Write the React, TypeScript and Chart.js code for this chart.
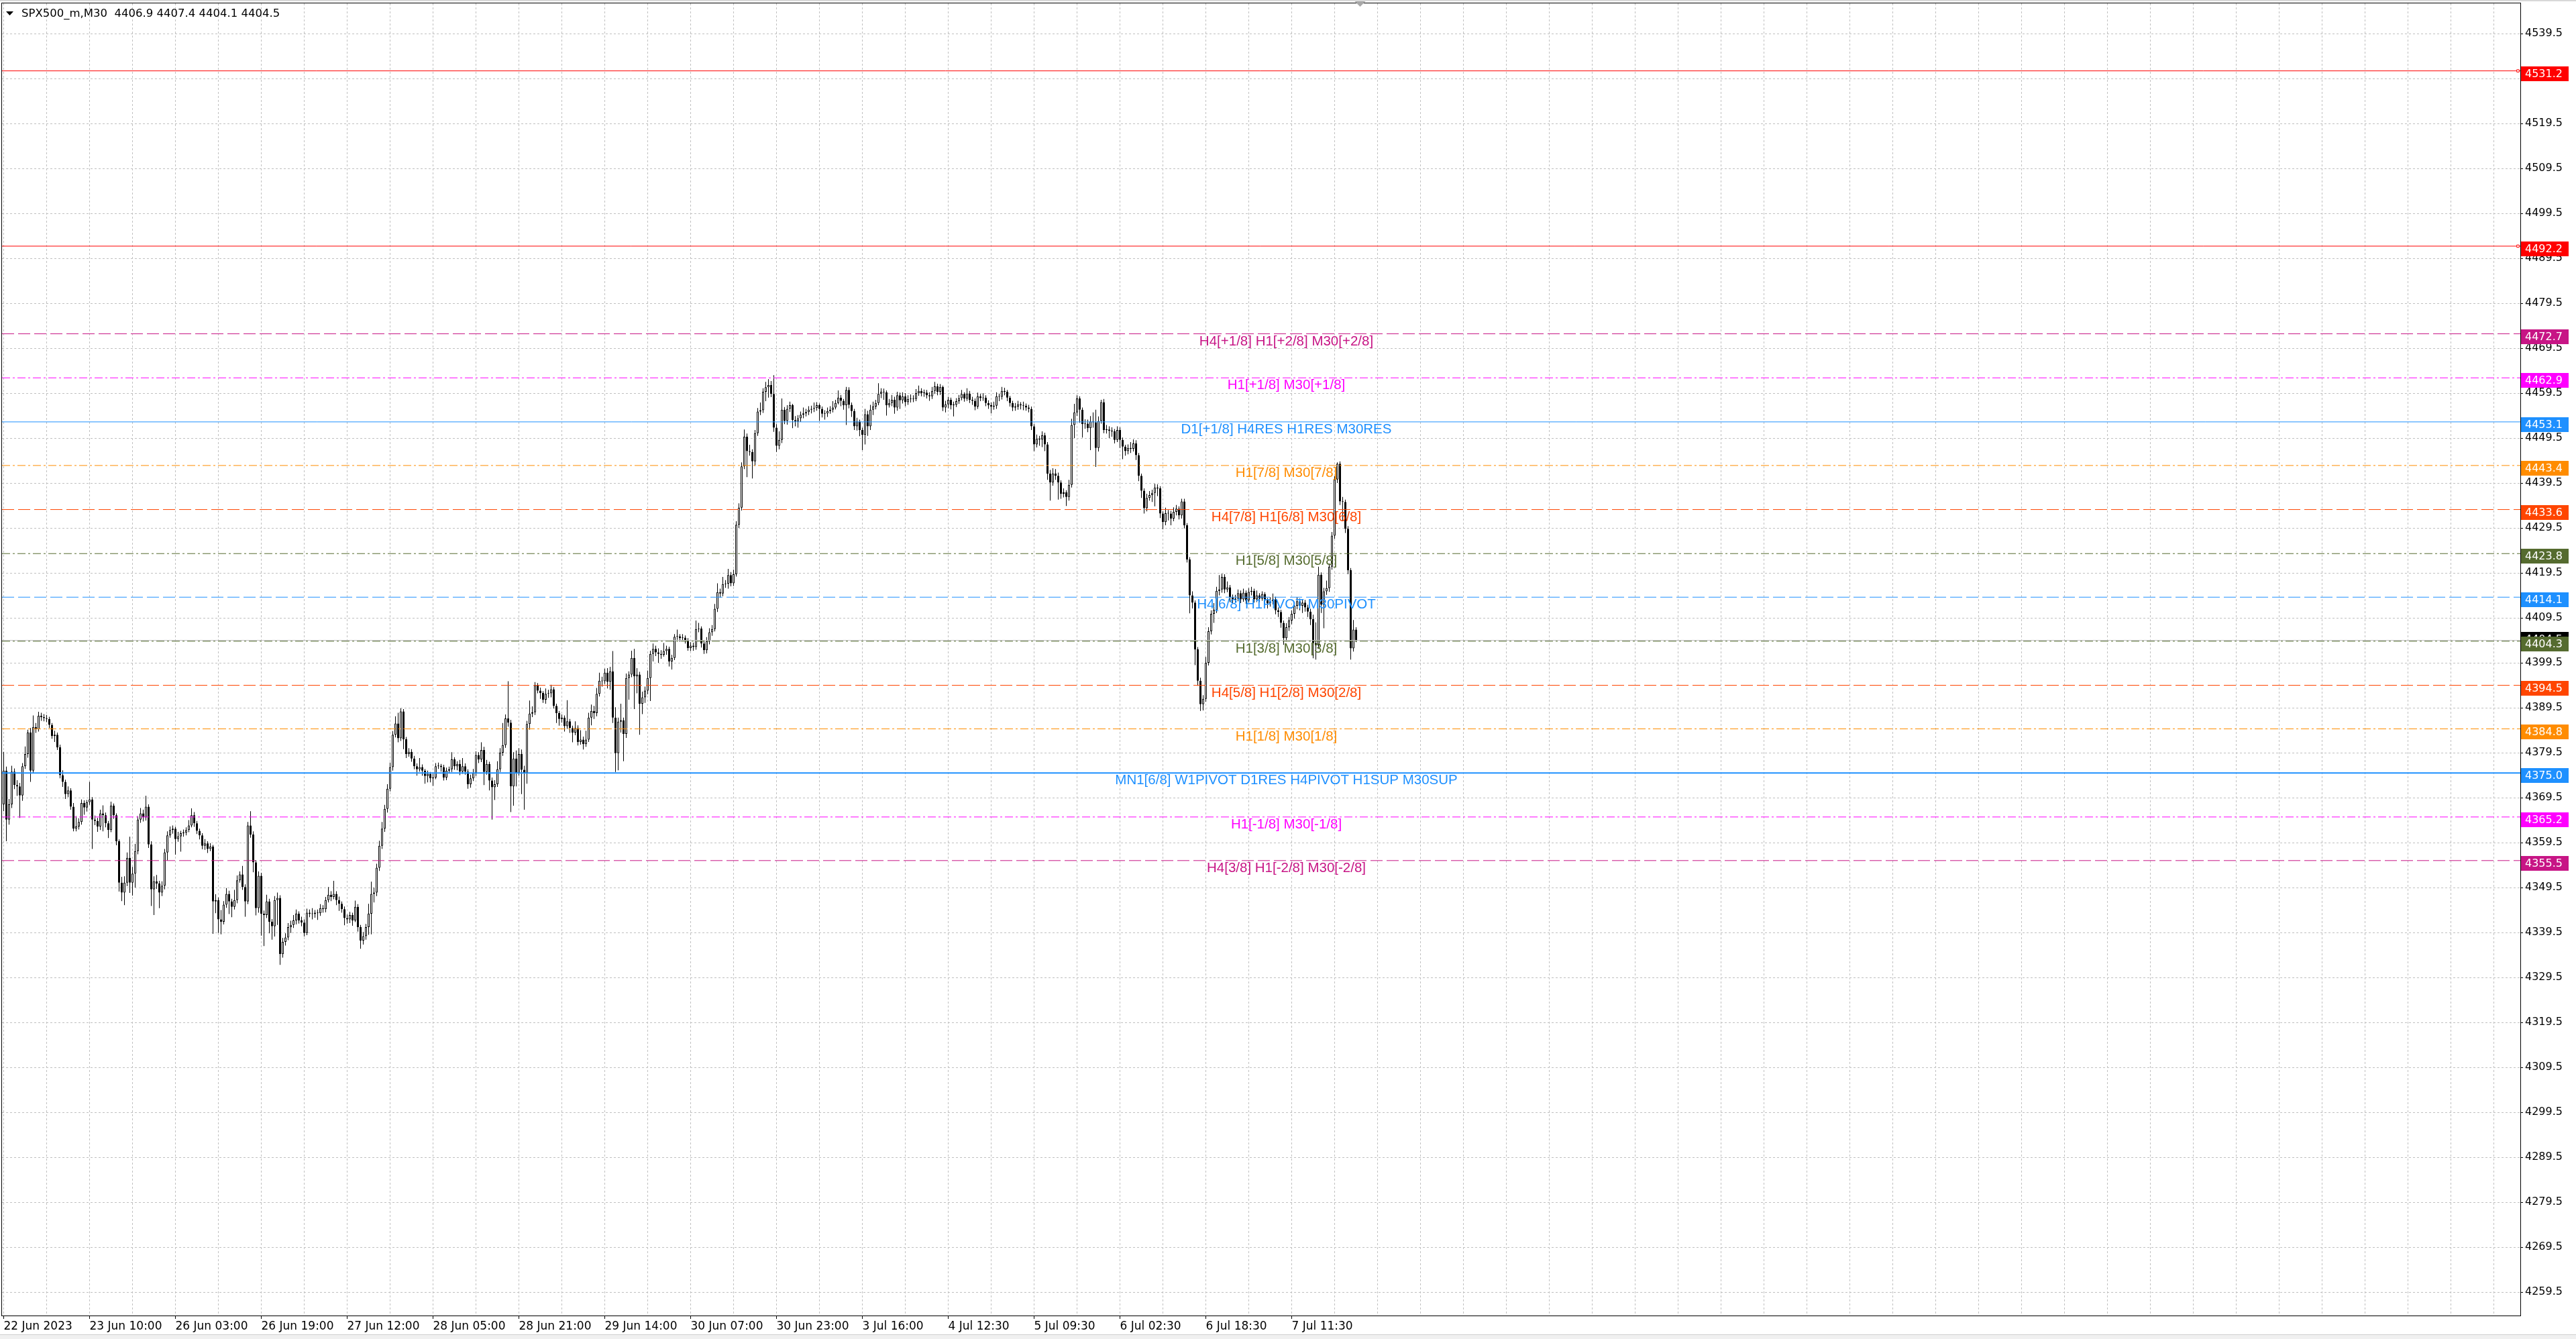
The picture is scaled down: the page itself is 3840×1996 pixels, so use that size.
import React, { useEffect, useRef } from "react";
import { Chart, registerables } from "chart.js";

Chart.register(...registerables);

// ---------- candle data (M30 bars) ----------
const OPEN = [
  4368.0, 4375.5, 4364.6, 4368.0, 4375.3, 4372.3, 4372.0, 4370.0, 4376.5, 4379.2,
  4384.0, 4375.5, 4385.2, 4384.7, 4387.7, 4387.4, 4387.2, 4387.0, 4385.7, 4383.2,
  4383.5, 4380.7, 4374.5, 4373.0, 4370.3, 4371.1, 4367.5, 4362.6, 4363.1, 4364.1,
  4368.3, 4367.3, 4368.5, 4369.1, 4364.6, 4364.3, 4363.1, 4366.0, 4365.6, 4363.8,
  4362.3, 4367.7, 4365.6, 4359.8, 4350.6, 4348.4, 4350.6, 4356.1, 4350.6, 4352.6,
  4357.6, 4364.6, 4366.0, 4365.1, 4367.5, 4359.1, 4349.1, 4350.9, 4350.4, 4348.4,
  4349.9, 4357.3, 4361.1, 4362.3, 4362.6, 4360.3, 4360.9, 4361.6, 4361.7, 4362.3,
  4363.3, 4365.6, 4363.8, 4362.1, 4361.1, 4358.8, 4359.3, 4358.1, 4358.6, 4346.4,
  4346.7, 4342.4, 4341.9, 4345.7, 4348.1, 4346.4, 4345.2, 4346.7, 4351.1, 4352.4,
  4349.6, 4346.4, 4363.3, 4361.3, 4355.1, 4344.9, 4352.1, 4343.7, 4343.4, 4346.4,
  4341.9, 4340.9, 4346.7, 4347.2, 4334.7, 4337.4, 4338.4, 4340.7, 4341.2, 4342.2,
  4343.7, 4342.2, 4341.7, 4339.4, 4343.9, 4343.7, 4343.6, 4343.9, 4343.8, 4344.9,
  4344.7, 4346.7, 4347.9, 4347.4, 4348.1, 4346.7, 4345.9, 4344.7, 4342.7, 4342.4,
  4343.4, 4342.2, 4345.2, 4340.7, 4337.7, 4338.7, 4340.7, 4343.7, 4348.1, 4348.4,
  4353.9, 4358.8, 4362.6, 4367.0, 4371.5, 4376.3, 4383.5, 4386.0, 4382.7, 4388.7,
  4382.5, 4379.2, 4379.7, 4378.2, 4376.5, 4375.8, 4376.3, 4375.5, 4374.3, 4374.8,
  4373.8, 4374.0, 4376.5, 4376.6, 4376.3, 4374.0, 4375.5, 4375.8, 4378.0, 4376.5,
  4377.0, 4375.3, 4376.5, 4375.3, 4372.5, 4373.8, 4375.0, 4379.0, 4378.0, 4380.1,
  4375.2, 4377.0, 4373.3, 4371.8, 4372.5, 4375.8, 4379.5, 4381.2, 4387.1, 4386.2,
  4372.0, 4378.2, 4375.0, 4379.2, 4375.7, 4375.0, 4385.9, 4388.2, 4388.5, 4394.5,
  4393.3, 4392.8, 4391.3, 4392.6, 4392.7, 4393.6, 4389.9, 4388.3, 4387.0, 4387.3,
  4385.4, 4386.5, 4385.0, 4384.0, 4385.0, 4381.9, 4382.4, 4381.4, 4382.4, 4387.3,
  4388.8, 4388.3, 4392.6, 4395.5, 4395.4, 4397.3, 4395.3, 4397.6, 4387.3, 4379.4,
  4386.4, 4386.7, 4383.7, 4396.1, 4396.9, 4400.6, 4396.5, 4396.9, 4390.4, 4391.8,
  4393.3, 4396.1, 4401.5, 4402.6, 4401.8, 4401.5, 4401.3, 4402.1, 4402.6, 4399.8,
  4400.6, 4405.3, 4405.4, 4405.0, 4405.1, 4404.5, 4402.8, 4403.3, 4403.0, 4407.0,
  4407.1, 4403.8, 4402.3, 4404.3, 4406.3, 4407.0, 4411.5, 4415.2, 4414.9, 4417.0,
  4417.1, 4419.0, 4417.2, 4419.2, 4430.2, 4434.0, 4443.2, 4449.8, 4446.6, 4446.4,
  4444.3, 4450.6, 4455.4, 4455.7, 4459.8, 4460.8, 4461.3, 4459.3, 4451.8, 4447.8,
  4449.1, 4455.8, 4453.3, 4456.0, 4456.8, 4453.5, 4453.2, 4453.9, 4454.7, 4455.0,
  4455.3, 4455.8, 4456.0, 4456.2, 4456.8, 4456.0, 4454.9, 4455.0, 4455.5, 4455.8,
  4456.3, 4457.3, 4458.5, 4457.8, 4456.8, 4460.2, 4456.9, 4455.5, 4452.1, 4453.2,
  4451.3, 4450.2, 4454.8, 4452.1, 4455.8, 4456.5, 4457.3, 4459.3, 4459.8, 4459.7,
  4456.8, 4457.3, 4458.0, 4456.3, 4459.0, 4457.9, 4458.8, 4457.5, 4458.2, 4458.3,
  4458.2, 4459.5, 4460.0, 4459.5, 4459.6, 4459.0, 4458.8, 4460.0, 4461.0, 4459.8,
  4460.9, 4456.3, 4457.0, 4458.0, 4456.8, 4456.9, 4457.7, 4458.4, 4459.3, 4458.3,
  4459.4, 4458.0, 4457.8, 4456.5, 4458.8, 4458.4, 4458.5, 4457.3, 4456.8, 4456.5,
  4456.7, 4458.8, 4458.7, 4460.0, 4459.8, 4458.5, 4457.3, 4456.3, 4456.5, 4457.0,
  4456.8, 4456.7, 4456.3, 4456.0, 4452.1, 4448.1, 4449.3, 4449.2, 4450.1, 4448.1,
  4441.6, 4439.6, 4441.6, 4441.1, 4439.6, 4437.1, 4437.4, 4436.4, 4439.1, 4452.4,
  4455.2, 4458.3, 4455.8, 4452.6, 4452.7, 4451.7, 4453.2, 4453.0, 4447.3, 4453.3,
  4457.5, 4451.3, 4451.4, 4451.1, 4451.0, 4449.1, 4451.3, 4449.1, 4447.6, 4446.6,
  4447.3, 4447.1, 4448.3, 4445.7, 4441.1, 4437.8, 4433.9, 4436.2, 4436.8, 4437.3,
  4438.5, 4438.3, 4432.7, 4430.8, 4432.8, 4432.7, 4431.6, 4433.1, 4433.8, 4432.3,
  4435.4, 4430.1, 4422.5, 4414.5, 4412.9, 4402.5, 4395.5, 4390.3, 4391.5, 4399.5,
  4406.5, 4410.4, 4411.3, 4415.5, 4415.8, 4418.6, 4415.8, 4416.3, 4414.1, 4413.5,
  4413.8, 4415.0, 4413.6, 4415.1, 4413.4, 4415.3, 4415.5, 4413.6, 4414.5, 4413.8,
  4414.8, 4413.4, 4412.7, 4413.2, 4413.6, 4411.2, 4410.8, 4408.4, 4405.0, 4407.4,
  4408.9, 4410.4, 4412.2, 4413.2, 4412.2, 4412.9, 4411.8, 4410.9, 4409.2, 4403.9,
  4403.4, 4419.1, 4412.4, 4415.4, 4416.1, 4420.9, 4427.8, 4440.3, 4443.8, 4435.4,
  4435.3, 4429.3, 4420.1, 4402.7, 4406.9,
];

const HIGH = [
  4379.7, 4376.4, 4369.2, 4376.6, 4376.0, 4373.4, 4372.8, 4377.2, 4380.9, 4384.6,
  4385.0, 4387.8, 4386.1, 4388.6, 4388.4, 4388.1, 4387.9, 4387.5, 4386.1, 4384.4,
  4384.0, 4381.3, 4375.6, 4373.5, 4372.0, 4371.6, 4368.3, 4365.4, 4364.9, 4369.1,
  4368.9, 4369.0, 4373.0, 4369.6, 4365.5, 4365.0, 4366.8, 4367.8, 4366.2, 4364.3,
  4368.6, 4368.2, 4366.0, 4360.2, 4351.9, 4352.0, 4357.3, 4360.8, 4354.1, 4359.2,
  4365.4, 4367.2, 4366.8, 4369.9, 4368.0, 4359.8, 4352.0, 4352.3, 4351.0, 4350.9,
  4358.1, 4362.0, 4363.1, 4363.3, 4363.0, 4361.9, 4362.1, 4362.4, 4362.9, 4364.5,
  4367.1, 4366.3, 4364.3, 4362.6, 4361.6, 4360.3, 4359.8, 4359.4, 4359.0, 4348.0,
  4347.3, 4344.5, 4346.5, 4349.4, 4348.8, 4347.0, 4349.0, 4352.2, 4353.1, 4354.3,
  4350.2, 4364.1, 4366.5, 4362.0, 4355.6, 4353.1, 4352.8, 4344.4, 4347.9, 4347.0,
  4342.5, 4347.6, 4348.4, 4347.8, 4338.3, 4339.3, 4341.6, 4342.1, 4343.4, 4344.6,
  4344.2, 4343.0, 4342.4, 4344.8, 4344.6, 4344.9, 4344.5, 4344.6, 4345.8, 4345.6,
  4347.4, 4349.6, 4348.7, 4351.0, 4348.7, 4347.5, 4346.4, 4345.3, 4343.5, 4344.1,
  4343.9, 4346.6, 4345.8, 4341.2, 4339.6, 4341.4, 4345.9, 4350.8, 4349.5, 4354.8,
  4359.9, 4364.1, 4367.9, 4372.5, 4377.3, 4384.3, 4387.6, 4388.4, 4389.4, 4389.2,
  4383.0, 4380.5, 4380.3, 4378.8, 4377.1, 4378.3, 4376.9, 4375.9, 4375.5, 4375.2,
  4374.8, 4377.2, 4377.3, 4377.0, 4376.8, 4376.2, 4376.4, 4379.6, 4378.5, 4377.6,
  4377.9, 4378.3, 4377.1, 4375.8, 4374.6, 4375.9, 4379.8, 4379.6, 4381.8, 4380.8,
  4377.9, 4377.5, 4374.0, 4373.4, 4377.6, 4380.5, 4386.1, 4388.0, 4395.4, 4386.8,
  4379.6, 4380.0, 4380.5, 4380.2, 4376.6, 4386.6, 4391.1, 4389.8, 4395.2, 4395.0,
  4394.0, 4393.2, 4393.8, 4393.5, 4394.6, 4394.1, 4390.4, 4388.8, 4388.0, 4387.8,
  4391.2, 4387.0, 4385.5, 4386.5, 4385.6, 4384.5, 4383.1, 4384.4, 4388.4, 4390.2,
  4389.9, 4393.9, 4397.3, 4396.4, 4398.2, 4398.3, 4398.6, 4402.1, 4389.6, 4387.3,
  4390.4, 4387.3, 4397.1, 4397.6, 4402.2, 4402.6, 4398.3, 4397.5, 4393.1, 4394.2,
  4397.8, 4402.2, 4403.8, 4403.3, 4402.7, 4402.3, 4403.9, 4403.3, 4403.1, 4401.3,
  4405.9, 4406.9, 4405.9, 4405.9, 4405.6, 4405.0, 4404.1, 4404.0, 4408.9, 4408.4,
  4407.6, 4404.5, 4405.2, 4407.2, 4407.9, 4412.6, 4417.2, 4416.0, 4418.6, 4417.9,
  4420.4, 4419.7, 4420.2, 4431.0, 4435.0, 4444.1, 4451.4, 4450.5, 4448.0, 4447.0,
  4451.3, 4456.2, 4457.4, 4460.6, 4462.0, 4462.6, 4462.2, 4463.5, 4452.6, 4451.0,
  4458.3, 4456.4, 4456.8, 4457.6, 4457.1, 4454.4, 4454.6, 4455.4, 4456.3, 4456.0,
  4456.6, 4456.7, 4457.4, 4457.5, 4457.2, 4456.5, 4455.7, 4456.3, 4456.6, 4457.7,
  4458.0, 4460.1, 4459.1, 4458.2, 4460.9, 4460.8, 4457.4, 4456.0, 4454.0, 4453.6,
  4451.8, 4456.0, 4455.6, 4456.9, 4457.6, 4458.0, 4461.7, 4460.6, 4460.5, 4460.1,
  4458.2, 4459.1, 4458.7, 4459.8, 4459.6, 4459.7, 4459.5, 4459.0, 4459.2, 4459.0,
  4460.4, 4461.2, 4460.6, 4460.3, 4460.2, 4459.7, 4460.9, 4462.0, 4461.6, 4461.5,
  4461.2, 4457.8, 4458.7, 4458.5, 4457.6, 4458.4, 4459.1, 4460.2, 4459.7, 4460.6,
  4460.0, 4458.7, 4458.3, 4459.6, 4459.3, 4459.5, 4459.0, 4457.9, 4457.4, 4457.6,
  4459.7, 4459.4, 4460.9, 4460.7, 4460.2, 4458.9, 4457.8, 4457.3, 4457.8, 4457.5,
  4457.6, 4457.2, 4456.9, 4456.5, 4452.6, 4450.3, 4450.0, 4451.0, 4450.7, 4448.6,
  4442.4, 4442.8, 4442.6, 4441.8, 4440.1, 4438.3, 4437.9, 4440.2, 4453.8, 4457.1,
  4459.0, 4458.8, 4456.3, 4453.7, 4453.6, 4454.4, 4455.2, 4455.8, 4454.3, 4458.0,
  4458.2, 4452.4, 4452.1, 4451.9, 4451.5, 4452.1, 4451.9, 4449.6, 4448.0, 4448.1,
  4448.6, 4449.2, 4449.0, 4446.2, 4441.6, 4438.3, 4437.1, 4437.7, 4438.0, 4439.3,
  4439.2, 4438.8, 4433.2, 4434.0, 4433.5, 4433.3, 4434.1, 4434.6, 4434.3, 4436.0,
  4436.0, 4430.6, 4423.0, 4415.4, 4413.4, 4403.0, 4396.2, 4392.3, 4400.8, 4407.4,
  4411.2, 4412.8, 4416.4, 4419.0, 4419.3, 4419.2, 4417.6, 4416.8, 4414.7, 4414.6,
  4415.8, 4415.6, 4416.0, 4415.6, 4416.1, 4416.4, 4416.0, 4415.6, 4415.0, 4415.4,
  4415.2, 4413.9, 4414.1, 4414.9, 4414.2, 4411.8, 4411.3, 4408.9, 4408.3, 4409.7,
  4411.2, 4413.0, 4414.1, 4413.8, 4413.6, 4413.5, 4412.4, 4411.5, 4410.2, 4408.5,
  4420.9, 4419.6, 4416.2, 4417.8, 4421.6, 4428.6, 4441.0, 4444.1, 4444.3, 4436.4,
  4435.8, 4429.9, 4420.6, 4409.0, 4407.4,
];

const LOW = [
  4366.5, 4359.8, 4363.5, 4367.2, 4371.4, 4369.9, 4365.0, 4368.8, 4375.9, 4378.4,
  4373.0, 4375.0, 4383.9, 4384.2, 4386.6, 4386.5, 4386.3, 4385.0, 4382.6, 4381.9,
  4380.1, 4373.8, 4371.9, 4369.2, 4369.6, 4366.8, 4362.0, 4362.0, 4362.4, 4363.5,
  4365.7, 4366.4, 4367.9, 4358.1, 4363.4, 4361.9, 4362.3, 4362.0, 4362.9, 4360.5,
  4361.8, 4364.8, 4358.9, 4348.6, 4346.5, 4345.6, 4349.8, 4348.3, 4347.7, 4349.5,
  4356.9, 4363.9, 4364.2, 4364.4, 4358.3, 4345.4, 4343.4, 4349.2, 4344.9, 4347.6,
  4349.1, 4355.5, 4360.6, 4361.5, 4356.8, 4359.7, 4357.5, 4360.8, 4361.1, 4361.8,
  4362.9, 4363.0, 4361.4, 4360.2, 4358.0, 4357.9, 4357.2, 4357.6, 4339.2, 4343.8,
  4339.4, 4339.1, 4341.3, 4345.0, 4343.6, 4342.9, 4344.6, 4346.0, 4350.6, 4349.0,
  4343.0, 4345.8, 4360.6, 4352.9, 4343.3, 4343.9, 4338.8, 4336.5, 4342.7, 4339.3,
  4337.9, 4338.6, 4341.2, 4332.3, 4333.9, 4336.6, 4337.8, 4339.4, 4340.5, 4341.3,
  4341.5, 4340.9, 4338.6, 4338.9, 4342.9, 4342.4, 4342.8, 4342.3, 4343.2, 4343.9,
  4344.0, 4346.2, 4346.5, 4346.9, 4345.6, 4344.3, 4343.9, 4341.1, 4341.5, 4341.6,
  4341.0, 4341.8, 4339.7, 4335.9, 4336.8, 4337.9, 4339.0, 4339.1, 4346.2, 4347.6,
  4353.2, 4358.1, 4361.9, 4366.2, 4370.9, 4375.5, 4382.9, 4381.8, 4382.1, 4380.3,
  4378.3, 4378.6, 4377.5, 4375.8, 4374.4, 4375.3, 4374.4, 4372.6, 4372.9, 4372.9,
  4372.1, 4373.6, 4375.9, 4375.3, 4373.3, 4373.4, 4374.9, 4375.2, 4375.7, 4375.6,
  4374.5, 4374.8, 4374.6, 4371.5, 4371.7, 4373.2, 4374.3, 4377.2, 4377.4, 4372.3,
  4374.6, 4371.1, 4364.6, 4369.0, 4371.9, 4375.2, 4378.8, 4380.6, 4385.3, 4366.3,
  4367.7, 4372.0, 4374.4, 4370.3, 4366.8, 4372.6, 4384.6, 4387.4, 4387.9, 4392.7,
  4391.5, 4390.6, 4390.4, 4391.7, 4391.8, 4389.3, 4386.1, 4385.5, 4386.2, 4384.2,
  4384.8, 4383.9, 4381.8, 4383.4, 4381.1, 4381.3, 4380.2, 4380.8, 4381.9, 4385.6,
  4387.0, 4387.6, 4392.0, 4394.2, 4394.8, 4393.8, 4393.5, 4386.1, 4375.2, 4375.6,
  4384.0, 4377.6, 4382.8, 4391.3, 4396.3, 4389.2, 4392.7, 4383.5, 4388.1, 4390.6,
  4392.5, 4391.0, 4399.8, 4401.0, 4399.5, 4400.4, 4400.9, 4401.3, 4398.7, 4398.0,
  4400.1, 4404.6, 4404.2, 4404.4, 4403.8, 4402.2, 4402.1, 4402.2, 4402.4, 4406.3,
  4402.9, 4401.5, 4401.6, 4403.6, 4405.5, 4406.5, 4410.8, 4414.0, 4414.3, 4416.2,
  4416.0, 4416.5, 4416.6, 4418.7, 4429.5, 4433.4, 4442.6, 4440.8, 4445.6, 4440.5,
  4443.3, 4450.0, 4454.6, 4455.1, 4457.7, 4458.5, 4458.6, 4450.9, 4446.4, 4447.0,
  4448.4, 4452.6, 4452.5, 4455.3, 4451.7, 4452.1, 4451.8, 4453.1, 4453.9, 4454.3,
  4454.6, 4455.0, 4455.3, 4455.6, 4453.3, 4454.1, 4453.6, 4454.2, 4454.9, 4455.2,
  4455.9, 4457.0, 4456.6, 4455.8, 4452.4, 4456.1, 4454.2, 4451.3, 4451.2, 4449.9,
  4446.8, 4448.1, 4450.0, 4451.3, 4454.6, 4455.9, 4456.8, 4458.4, 4458.0, 4454.5,
  4456.3, 4456.6, 4454.9, 4455.6, 4456.0, 4457.2, 4456.6, 4456.9, 4457.4, 4457.5,
  4457.7, 4458.9, 4458.8, 4458.7, 4458.3, 4457.8, 4458.2, 4459.3, 4459.0, 4459.1,
  4455.5, 4455.2, 4456.1, 4455.9, 4454.3, 4456.4, 4457.1, 4457.9, 4457.6, 4457.8,
  4457.3, 4456.9, 4455.7, 4456.0, 4457.7, 4457.8, 4456.6, 4456.0, 4455.0, 4455.8,
  4456.0, 4457.7, 4458.1, 4459.0, 4457.7, 4456.5, 4455.5, 4455.6, 4455.8, 4455.9,
  4455.7, 4455.6, 4455.2, 4451.3, 4446.6, 4447.4, 4447.8, 4447.5, 4446.6, 4440.2,
  4435.6, 4438.9, 4440.2, 4435.8, 4436.0, 4436.3, 4434.4, 4435.6, 4438.5, 4449.5,
  4454.4, 4452.9, 4449.6, 4451.6, 4450.8, 4446.8, 4451.8, 4443.1, 4446.5, 4452.7,
  4450.6, 4450.5, 4449.5, 4449.8, 4448.3, 4448.6, 4447.3, 4444.8, 4445.6, 4445.9,
  4446.2, 4446.5, 4444.6, 4439.9, 4436.2, 4432.7, 4433.2, 4435.6, 4435.3, 4434.3,
  4436.6, 4431.7, 4429.2, 4430.1, 4431.2, 4430.1, 4431.0, 4432.3, 4431.4, 4431.6,
  4429.4, 4421.8, 4410.5, 4411.6, 4399.0, 4394.4, 4388.8, 4388.9, 4390.8, 4398.9,
  4405.8, 4408.4, 4410.6, 4414.5, 4415.1, 4415.0, 4415.2, 4413.0, 4412.8, 4413.0,
  4413.2, 4412.8, 4413.1, 4412.6, 4412.9, 4414.5, 4412.9, 4413.0, 4413.0, 4413.3,
  4412.6, 4411.6, 4412.0, 4412.5, 4410.3, 4409.7, 4407.3, 4403.5, 4404.3, 4406.6,
  4408.1, 4409.3, 4411.4, 4411.2, 4410.6, 4410.9, 4409.7, 4407.9, 4400.5, 4400.2,
  4402.6, 4410.6, 4407.2, 4414.6, 4415.3, 4420.2, 4427.1, 4439.5, 4434.6, 4431.0,
  4428.4, 4419.2, 4400.2, 4402.0, 4404.1,
];

const CLOSE = [
  4375.5, 4364.6, 4368.0, 4375.3, 4372.3, 4372.0, 4370.0, 4376.5, 4379.2, 4384.0,
  4375.5, 4385.2, 4384.7, 4387.7, 4387.4, 4387.2, 4387.0, 4385.7, 4383.2, 4383.5,
  4380.7, 4374.5, 4373.0, 4370.3, 4371.1, 4367.5, 4362.6, 4363.1, 4364.1, 4368.3,
  4367.3, 4368.5, 4369.1, 4364.6, 4364.3, 4363.1, 4366.0, 4365.6, 4363.8, 4362.3,
  4367.7, 4365.6, 4359.8, 4350.6, 4348.4, 4350.6, 4356.1, 4350.6, 4352.6, 4357.6,
  4364.6, 4366.0, 4365.1, 4367.5, 4359.1, 4349.1, 4350.9, 4350.4, 4348.4, 4349.9,
  4357.3, 4361.1, 4362.3, 4362.6, 4360.3, 4360.9, 4361.6, 4361.7, 4362.3, 4363.3,
  4365.6, 4363.8, 4362.1, 4361.1, 4358.8, 4359.3, 4358.1, 4358.6, 4346.4, 4346.7,
  4342.4, 4341.9, 4345.7, 4348.1, 4346.4, 4345.2, 4346.7, 4351.1, 4352.4, 4349.6,
  4346.4, 4363.3, 4361.3, 4355.1, 4344.9, 4352.1, 4343.7, 4343.4, 4346.4, 4341.9,
  4340.9, 4346.7, 4347.2, 4334.7, 4337.4, 4338.4, 4340.7, 4341.2, 4342.2, 4343.7,
  4342.2, 4341.7, 4339.4, 4343.9, 4343.7, 4343.6, 4343.9, 4343.8, 4344.9, 4344.7,
  4346.7, 4347.9, 4347.4, 4348.1, 4346.7, 4345.9, 4344.7, 4342.7, 4342.4, 4343.4,
  4342.2, 4345.2, 4340.7, 4337.7, 4338.7, 4340.7, 4343.7, 4348.1, 4348.4, 4353.9,
  4358.8, 4362.6, 4367.0, 4371.5, 4376.3, 4383.5, 4386.0, 4382.7, 4388.7, 4382.5,
  4379.2, 4379.7, 4378.2, 4376.5, 4375.8, 4376.3, 4375.5, 4374.3, 4374.8, 4373.8,
  4374.0, 4376.5, 4376.6, 4376.3, 4374.0, 4375.5, 4375.8, 4378.0, 4376.5, 4377.0,
  4375.3, 4376.5, 4375.3, 4372.5, 4373.8, 4375.0, 4379.0, 4378.0, 4380.1, 4375.2,
  4377.0, 4373.3, 4371.8, 4372.5, 4375.8, 4379.5, 4381.2, 4387.1, 4386.2, 4372.0,
  4378.2, 4375.0, 4379.2, 4375.7, 4375.0, 4385.9, 4388.2, 4388.5, 4394.5, 4393.3,
  4392.8, 4391.3, 4392.6, 4392.7, 4393.6, 4389.9, 4388.3, 4387.0, 4387.3, 4385.4,
  4386.5, 4385.0, 4384.0, 4385.0, 4381.9, 4382.4, 4381.4, 4382.4, 4387.3, 4388.8,
  4388.3, 4392.6, 4395.5, 4395.4, 4397.3, 4395.3, 4397.6, 4387.3, 4379.4, 4386.4,
  4386.7, 4383.7, 4396.1, 4396.9, 4400.6, 4396.5, 4396.9, 4390.4, 4391.8, 4393.3,
  4396.1, 4401.5, 4402.6, 4401.8, 4401.5, 4401.3, 4402.1, 4402.6, 4399.8, 4400.6,
  4405.3, 4405.4, 4405.0, 4405.1, 4404.5, 4402.8, 4403.3, 4403.0, 4407.0, 4407.1,
  4403.8, 4402.3, 4404.3, 4406.3, 4407.0, 4411.5, 4415.2, 4414.9, 4417.0, 4417.1,
  4419.0, 4417.2, 4419.2, 4430.2, 4434.0, 4443.2, 4449.8, 4446.6, 4446.4, 4444.3,
  4450.6, 4455.4, 4455.7, 4459.8, 4460.8, 4461.3, 4459.3, 4451.8, 4447.8, 4449.1,
  4455.8, 4453.3, 4456.0, 4456.8, 4453.5, 4453.2, 4453.9, 4454.7, 4455.0, 4455.3,
  4455.8, 4456.0, 4456.2, 4456.8, 4456.0, 4454.9, 4455.0, 4455.5, 4455.8, 4456.3,
  4457.3, 4458.5, 4457.8, 4456.8, 4460.2, 4456.9, 4455.5, 4452.1, 4453.2, 4451.3,
  4450.2, 4454.8, 4452.1, 4455.8, 4456.5, 4457.3, 4459.3, 4459.8, 4459.7, 4456.8,
  4457.3, 4458.0, 4456.3, 4459.0, 4457.9, 4458.8, 4457.5, 4458.2, 4458.3, 4458.2,
  4459.5, 4460.0, 4459.5, 4459.6, 4459.0, 4458.8, 4460.0, 4461.0, 4459.8, 4460.9,
  4456.3, 4457.0, 4458.0, 4456.8, 4456.9, 4457.7, 4458.4, 4459.3, 4458.3, 4459.4,
  4458.0, 4457.8, 4456.5, 4458.8, 4458.4, 4458.5, 4457.3, 4456.8, 4456.5, 4456.7,
  4458.8, 4458.7, 4460.0, 4459.8, 4458.5, 4457.3, 4456.3, 4456.5, 4457.0, 4456.8,
  4456.7, 4456.3, 4456.0, 4452.1, 4448.1, 4449.3, 4449.2, 4450.1, 4448.1, 4441.6,
  4439.6, 4441.6, 4441.1, 4439.6, 4437.1, 4437.4, 4436.4, 4439.1, 4452.4, 4455.2,
  4458.3, 4455.8, 4452.6, 4452.7, 4451.7, 4453.2, 4453.0, 4447.3, 4453.3, 4457.5,
  4451.3, 4451.4, 4451.1, 4451.0, 4449.1, 4451.3, 4449.1, 4447.6, 4446.6, 4447.3,
  4447.1, 4448.3, 4445.7, 4441.1, 4437.8, 4433.9, 4436.2, 4436.8, 4437.3, 4438.5,
  4438.3, 4432.7, 4430.8, 4432.8, 4432.7, 4431.6, 4433.1, 4433.8, 4432.3, 4435.4,
  4430.1, 4422.5, 4414.5, 4412.9, 4402.5, 4395.5, 4390.3, 4391.5, 4399.5, 4406.5,
  4410.4, 4411.3, 4415.5, 4415.8, 4418.6, 4415.8, 4416.3, 4414.1, 4413.5, 4413.8,
  4415.0, 4413.6, 4415.1, 4413.4, 4415.3, 4415.5, 4413.6, 4414.5, 4413.8, 4414.8,
  4413.4, 4412.7, 4413.2, 4413.6, 4411.2, 4410.8, 4408.4, 4405.0, 4407.4, 4408.9,
  4410.4, 4412.2, 4413.2, 4412.2, 4412.9, 4411.8, 4410.9, 4409.2, 4403.9, 4403.4,
  4419.1, 4412.4, 4415.4, 4416.1, 4420.9, 4427.8, 4440.3, 4443.8, 4435.4, 4435.3,
  4429.3, 4420.1, 4402.7, 4406.9, 4404.5,
];

// ---------- axes ----------
const X_TICK_LABELS = [
  "22 Jun 2023", "23 Jun 10:00", "26 Jun 03:00", "26 Jun 19:00", "27 Jun 12:00",
  "28 Jun 05:00", "28 Jun 21:00", "29 Jun 14:00", "30 Jun 07:00", "30 Jun 23:00",
  "3 Jul 16:00", "4 Jul 12:30", "5 Jul 09:30", "6 Jul 02:30", "6 Jul 18:30", "7 Jul 11:30",
];
const X_LABEL_EVERY = 32; // bars between date labels
const X_GRID_EVERY = 16; // bars between vertical grid lines
const Y_TICK_VALUES = [
  4259.5, 4269.5, 4279.5, 4289.5, 4299.5, 4309.5, 4319.5, 4329.5, 4339.5, 4349.5,
  4359.5, 4369.5, 4379.5, 4389.5, 4399.5, 4409.5, 4419.5, 4429.5, 4439.5, 4449.5,
  4459.5, 4469.5, 4479.5, 4489.5, 4499.5, 4509.5, 4519.5, 4529.5, 4539.5,
];

// ---------- level lines ----------
const LEVEL_PRICES = [
  4531.2, 4492.2, 4472.7, 4462.9, 4453.1, 4443.4, 4433.6, 4423.8,
  4414.1, 4404.3, 4394.5, 4384.8, 4375.0, 4365.2, 4355.5,
];
const LEVEL_TEXTS = [
  "", "",
  "H4[+1/8] H1[+2/8] M30[+2/8]",
  "H1[+1/8] M30[+1/8]",
  "D1[+1/8] H4RES H1RES M30RES",
  "H1[7/8] M30[7/8]",
  "H4[7/8] H1[6/8] M30[6/8]",
  "H1[5/8] M30[5/8]",
  "H4[6/8] H1PIVOT M30PIVOT",
  "H1[3/8] M30[3/8]",
  "H4[5/8] H1[2/8] M30[2/8]",
  "H1[1/8] M30[1/8]",
  "MN1[6/8] W1PIVOT D1RES H4PIVOT H1SUP M30SUP",
  "H1[-1/8] M30[-1/8]",
  "H4[3/8] H1[-2/8] M30[-2/8]",
];
const LEVEL_COLORS = [
  "#FF0000", "#FF0000", "#C71585", "#FF00FF", "#1E90FF", "#FF8C00", "#FF4500", "#556B2F",
  "#1E90FF", "#556B2F", "#FF4500", "#FF8C00", "#1E90FF", "#FF00FF", "#C71585",
];
const LEVEL_STYLES = [
  "solid", "solid", "dash", "dashdot", "solid", "dashdot", "dash", "dashdot",
  "dash", "dashdot", "dash", "dashdot", "solid", "dashdot", "dash",
];
const LEVEL_WIDTHS = [1, 1, 1, 1, 1, 1, 1, 1, 1, 1, 1, 1, 2, 1, 1];
const BID_PRICE = 4404.5;
const TITLE_TEXT = "SPX500_m,M30  4406.9 4407.4 4404.1 4404.5";
const LABEL_BAR = 478; // bar under which the level captions are centred
const MARKER_BAR = 937;
const SHIFT_BAR = 505.5;

// visible window
const X_MIN = -0.625;
const X_MAX = 937.875;
const Y_MIN = 4254.28;
const Y_MAX = 4546.22;

const DASHES: Record<string, number[]> = {
  solid: [],
  dash: [18, 6],
  dashdot: [12, 4, 3, 4],
};

const AXIS_FONT = '"DejaVu Sans", Verdana, sans-serif';
const LEVEL_FONT = '"Liberation Sans", Arial, sans-serif';

const mtPlugin = {
  id: "mtDecor",
  beforeDraw(chart: any) {
    const ctx = chart.ctx;
    const { left, right, top, bottom } = chart.chartArea;
    const xs = chart.scales.x;
    const ys = chart.scales.y;
    ctx.save();
    ctx.fillStyle = "#FFFFFF";
    ctx.fillRect(0, 0, chart.width, chart.height);
    // window edges
    ctx.fillStyle = "#D8D8D8";
    ctx.fillRect(0, 0, chart.width, 2);
    ctx.fillStyle = "#F0F0F0";
    ctx.fillRect(0, chart.height - 6, chart.width, 6);
    ctx.fillStyle = "#D0D0D0";
    ctx.fillRect(0, chart.height - 7, chart.width, 1);
    // grid
    ctx.strokeStyle = "#C0C0C0";
    ctx.lineWidth = 1;
    ctx.setLineDash([3, 3]);
    ctx.beginPath();
    for (const v of Y_TICK_VALUES) {
      const y = Math.round(ys.getPixelForValue(v)) + 0.5;
      ctx.moveTo(left, y);
      ctx.lineTo(right, y);
    }
    for (let b = 0; b <= X_MAX; b += X_GRID_EVERY) {
      const x = Math.floor(xs.getPixelForValue(b)) + 0.5;
      ctx.moveTo(x, top);
      ctx.lineTo(x, bottom);
    }
    ctx.stroke();
    ctx.restore();
  },
  afterDatasetsDraw(chart: any) {
    const ctx = chart.ctx;
    const xs = chart.scales.x;
    const ys = chart.scales.y;
    ctx.save();
    ctx.font = `20.5px ${LEVEL_FONT}`;
    ctx.textAlign = "center";
    ctx.textBaseline = "alphabetic";
    const cx = xs.getPixelForValue(LABEL_BAR);
    LEVEL_PRICES.forEach((p, k) => {
      if (!LEVEL_TEXTS[k]) return;
      ctx.fillStyle = LEVEL_COLORS[k];
      ctx.fillText(LEVEL_TEXTS[k], cx, ys.getPixelForValue(p) + 17);
    });
    ctx.restore();
  },
  afterDraw(chart: any) {
    const ctx = chart.ctx;
    const { left, right, top, bottom } = chart.chartArea;
    const xs = chart.scales.x;
    const ys = chart.scales.y;
    ctx.save();
    // frame
    ctx.strokeStyle = "#000000";
    ctx.lineWidth = 1;
    ctx.setLineDash([]);
    ctx.strokeRect(Math.round(left) - 0.5, Math.round(top) - 0.5, Math.round(right - left) + 1, Math.round(bottom - top) + 1);
    // tick marks
    ctx.beginPath();
    for (let k = 0; k < X_TICK_LABELS.length; k++) {
      const x = Math.floor(xs.getPixelForValue(k * X_LABEL_EVERY)) + 0.5;
      ctx.moveTo(x, bottom);
      ctx.lineTo(x, bottom + 5);
    }
    for (const v of Y_TICK_VALUES) {
      const y = Math.round(ys.getPixelForValue(v)) + 0.5;
      ctx.moveTo(right, y);
      ctx.lineTo(right + 4, y);
    }
    ctx.stroke();
    // price tags
    ctx.font = `16px ${AXIS_FONT}`;
    ctx.textAlign = "left";
    ctx.textBaseline = "middle";
    const tag = (price: number, color: string, dy: number) => {
      const yc = ys.getPixelForValue(price) + dy;
      ctx.fillStyle = color;
      ctx.fillRect(right + 1, Math.round(yc - 11), 71, 22);
      ctx.fillStyle = "#FFFFFF";
      ctx.fillText(price.toFixed(1), right + 7, Math.round(yc) + 1);
    };
    tag(BID_PRICE, "#000000", -1.5);
    LEVEL_PRICES.forEach((p, k) => tag(p, LEVEL_COLORS[k], 4));
    // title
    ctx.fillStyle = "#000000";
    ctx.beginPath();
    ctx.moveTo(9, 17);
    ctx.lineTo(20, 17);
    ctx.lineTo(14.5, 23);
    ctx.closePath();
    ctx.fill();
    ctx.font = `16.5px ${AXIS_FONT}`;
    ctx.textBaseline = "middle";
    ctx.fillText(TITLE_TEXT, 32, 21);
    // chart shift marker
    const sx = xs.getPixelForValue(SHIFT_BAR);
    ctx.fillStyle = "#A8A8A8";
    ctx.beginPath();
    ctx.moveTo(sx - 8, 2);
    ctx.lineTo(sx + 8, 2);
    ctx.lineTo(sx, 10);
    ctx.closePath();
    ctx.fill();
    ctx.restore();
  },
};

export default function App() {
  const canvasRef = useRef<HTMLCanvasElement | null>(null);

  useEffect(() => {
    const canvas = canvasRef.current;
    if (!canvas) return;
    const n = Math.min(OPEN.length, HIGH.length, LOW.length, CLOSE.length);
    const idx = Array.from({ length: n }, (_, i) => i);
    const bodies = idx.map((i) => ({ x: i, y: [Math.min(OPEN[i], CLOSE[i]), Math.max(OPEN[i], CLOSE[i])] }));
    const wicks = idx.map((i) => ({ x: i, y: [LOW[i], HIGH[i]] }));
    const bodyFill = idx.map((i) => (CLOSE[i] >= OPEN[i] ? "#FFFFFF" : "#000000"));

    const levelSets: any[] = LEVEL_PRICES.map((p, k) => {
      const withMarker = LEVEL_COLORS[k] === "#FF0000";
      return {
        type: "line",
        label: `level ${p}`,
        data: withMarker
          ? [{ x: X_MIN, y: p }, { x: MARKER_BAR, y: p }, { x: X_MAX, y: p }]
          : [{ x: X_MIN, y: p }, { x: X_MAX, y: p }],
        borderColor: LEVEL_COLORS[k],
        borderWidth: LEVEL_WIDTHS[k],
        borderDash: DASHES[LEVEL_STYLES[k]],
        pointRadius: withMarker ? [0, 2.5, 0] : 0,
        pointStyle: "rect",
        pointBackgroundColor: "#FFFFFF",
        pointBorderColor: LEVEL_COLORS[k],
        pointBorderWidth: 1,
        fill: false,
        tension: 0,
        order: 0,
      };
    });

    const bidSet: any = {
      type: "line",
      label: "bid",
      data: [{ x: X_MIN, y: BID_PRICE }, { x: X_MAX, y: BID_PRICE }],
      borderColor: "#C0C0C0",
      borderWidth: 1,
      pointRadius: 0,
      fill: false,
      order: 0.5,
    };

    const chart = new Chart(canvas, {
      type: "bar",
      data: {
        datasets: [
          ...levelSets,
          bidSet,
          {
            type: "bar",
            label: "body",
            data: bodies as any,
            barThickness: 3,
            backgroundColor: bodyFill,
            borderColor: "#000000",
            borderWidth: 1,
            borderSkipped: false,
            minBarLength: 1,
            inflateAmount: 0,
            grouped: false,
            order: 1,
          } as any,
          {
            type: "bar",
            label: "wick",
            data: wicks as any,
            barThickness: 1,
            backgroundColor: "#000000",
            borderWidth: 0,
            inflateAmount: 0,
            grouped: false,
            order: 2,
          } as any,
        ],
      },
      options: {
        responsive: false,
        maintainAspectRatio: false,
        animation: false,
        devicePixelRatio: 1,
        events: [],
        layout: { padding: { left: 3, top: 5, right: 0, bottom: 0 } },
        plugins: {
          legend: { display: false },
          tooltip: { enabled: false },
          title: { display: false },
        },
        scales: {
          x: {
            type: "linear",
            min: X_MIN,
            max: X_MAX,
            offset: false,
            grid: { display: false, drawTicks: false, offset: false },
            border: { display: false },
            afterBuildTicks: (s: any) => {
              s.ticks = X_TICK_LABELS.map((_, k) => ({ value: k * X_LABEL_EVERY }));
            },
            afterFit: (s: any) => {
              s.height = 35;
              s.paddingLeft = 0;
              s.paddingRight = 0;
              s.paddingTop = 0;
              s.paddingBottom = 0;
            },
            ticks: {
              autoSkip: false,
              maxRotation: 0,
              minRotation: 0,
              align: "start",
              padding: 6,
              color: "#000000",
              font: { family: AXIS_FONT, size: 17 },
              callback: (v: any) => X_TICK_LABELS[Math.round(Number(v) / X_LABEL_EVERY)] ?? "",
            },
          },
          y: {
            type: "linear",
            position: "right",
            min: Y_MIN,
            max: Y_MAX,
            grid: { display: false, drawTicks: false },
            border: { display: false },
            afterBuildTicks: (s: any) => {
              s.ticks = Y_TICK_VALUES.map((v) => ({ value: v }));
            },
            afterFit: (s: any) => {
              s.width = 83;
              s.paddingLeft = 0;
              s.paddingRight = 0;
              s.paddingTop = 0;
              s.paddingBottom = 0;
            },
            ticks: {
              padding: 7,
              color: "#000000",
              font: { family: AXIS_FONT, size: 16 },
              callback: (v: any) => Number(v).toFixed(1),
            },
          },
        },
      } as any,
      plugins: [mtPlugin],
    });

    return () => chart.destroy();
  }, []);

  return (
    <div style={{ position: "fixed", left: 0, top: 0, width: 3840, height: 1996, background: "#FFFFFF" }}>
      <canvas ref={canvasRef} width={3840} height={1996} style={{ display: "block", width: 3840, height: 1996 }} />
    </div>
  );
}
